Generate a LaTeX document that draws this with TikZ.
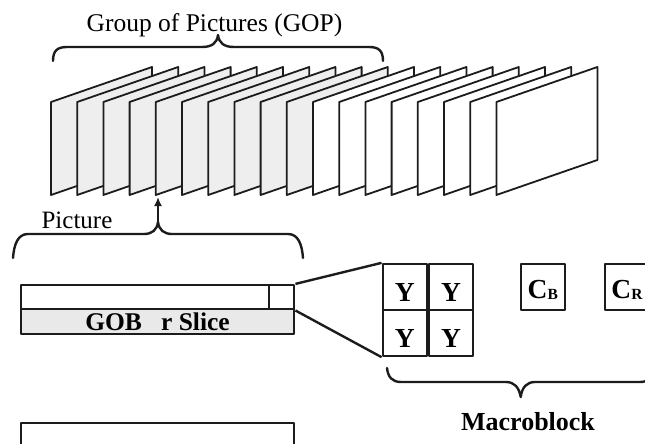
\documentclass[tikz,border=0pt]{standalone}
\usepackage{fontspec}
\setmainfont{Liberation Serif}
\usetikzlibrary{arrows.meta,positioning,calc}
\definecolor{Ink}{HTML}{1C1C1C}
\definecolor{Sheet}{HTML}{EEEEEE}
\definecolor{SliceGray}{HTML}{E9E9E9}
\newcommand\pxfont[1]{\fontsize{#1}{#1}\selectfont}

\begin{document}
\begin{tikzpicture}[x=1pt,y=-1pt,>=Latex,line join=round,
    ink/.style={draw=Ink,line width=2.3pt,inner sep=0pt},
    brace/.style={draw=Ink,line width=2.4pt,line cap=round},
    ycell/.style={ink,minimum width=44pt,minimum height=46pt,
                  font=\pxfont{27.5}\bfseries,text height=29pt,text depth=0pt},
    cbox/.style={ink,minimum width=44pt,minimum height=46pt,
                 font=\pxfont{27.5}\bfseries,text height=22.6pt,text depth=0pt}]
  \useasboundingbox (0,0) rectangle (645,444);
  \clip (0,0) rectangle (645,444);

  % the pictures of one GOP
  \foreach \i in {0,...,17}{
    \pgfmathsetmacro{\fx}{51+26.2*\i}
    \ifnum\i<10 \def\sheetcol{Sheet}\else\def\sheetcol{white}\fi
    \draw[Ink,line width=1.8pt,fill=\sheetcol]
          (\fx,195) -- (\fx,102) -- ++(101,-35) -- ++(0,93) -- cycle;
  }

  \node[font=\pxfont{25.5},anchor=base] (goplabel) at (214.5,31.7) {Group of Pictures (GOP)};
  \coordinate (goptip) at (218,35);
  \draw[brace] (53,61) .. controls (53,51) and (57,47) .. (67,47) -- (202,47)
        .. controls (212,47) and (217,43) .. (goptip)
        .. controls (219,43) and (224,47) .. (234,47) -- (369,47)
        .. controls (379,47) and (383,51) .. (383,61);

  % one picture
  \node[font=\pxfont{25},anchor=base] (piclabel) at (77,228) {Picture};
  \coordinate (pictip) at (158,222);
  \coordinate (sheetfoot) at (158,197);
  \draw[brace] (13,258) .. controls (14,244) and (18,234) .. (28,234) -- (144,234)
        .. controls (152,234) and (157,230) .. (pictip)
        .. controls (159,230) and (164,234) .. (172,234) -- (288,234)
        .. controls (298,234) and (302,244) .. (303,258);
  \draw[Ink,line width=1.8pt,-{Latex[length=9pt,width=8pt]}] (pictip) -- (sheetfoot);

  % GOB row and the next one
  \node[ink,minimum width=248.6pt,minimum height=24.3pt] (row) at (145,297.2) {};
  \node[ink,minimum width=25pt,minimum height=24.3pt] (cell) at (281.8,297.2) {};
  \node[ink,fill=SliceGray,minimum width=273.6pt,minimum height=25pt,
        font=\pxfont{25.5}\bfseries,text height=16.4pt,text depth=0pt]
        (gob) at (157.5,321.8) {GOB\hspace{0.75em}r Slice};
  \node[ink,minimum width=273.6pt,minimum height=60pt] (nextrow) at (157.5,453) {};

  % macroblock
  \node[ycell] (y11) at (404.7,287) {Y};
  \node[ycell,right=0pt of y11] (y12) {Y};
  \node[ycell,below=-2.3pt of y11] (y21) {Y};
  \node[ycell,right=0pt of y21] (y22) {Y};
  \node[cbox] (cb) at (542.8,287) {C\raisebox{-1pt}{\pxfont{15.5}B}};
  \node[cbox] (cr) at (627,287) {C\raisebox{-1pt}{\pxfont{15.5}R}};
  \draw[Ink,line width=2.4pt] (cell.north east) -- (y11.north west);
  \draw[Ink,line width=2.4pt] (cell.south east) -- (y21.south west);

  \coordinate (mbtip) at (520.7,397);
  \draw[brace] (387,368) .. controls (388,377) and (392,382) .. (401,382) -- (506,382)
        .. controls (514,382) and (519,387) .. (mbtip)
        .. controls (522,387) and (527,382) .. (535,382) -- (640,382)
        .. controls (649,382) and (653,377) .. (654,368);
  \node[font=\pxfont{26}\bfseries,anchor=base] (mblabel) at (528,430) {Macroblock};
\end{tikzpicture}
\end{document}
